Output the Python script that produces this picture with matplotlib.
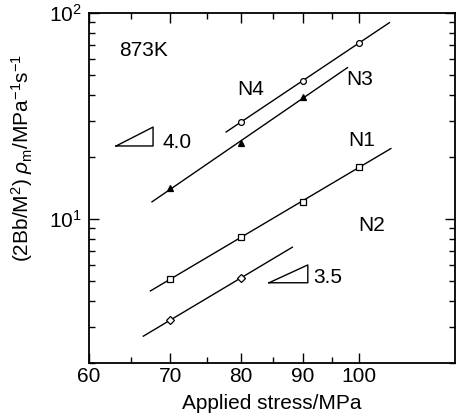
import matplotlib
matplotlib.use('Agg')
import matplotlib.pyplot as plt
from matplotlib.ticker import FixedLocator, NullFormatter, LogLocator
import numpy as np

plt.rcParams['font.family'] = ['Liberation Sans', 'DejaVu Sans']
plt.rcParams['mathtext.fontset'] = 'custom'
plt.rcParams['mathtext.rm'] = 'Liberation Sans'
plt.rcParams['mathtext.it'] = 'Liberation Sans:italic'

# stress values (MPa) and measured (2Bb/M^2) rho_m for each specimen
n1_stress = [70, 80, 90, 100]
n1_value = [5.11, 8.18, 12.1, 17.9]
n2_stress = [70, 80]
n2_value = [3.23, 5.17]
n3_stress = [70, 80, 90]
n3_value = [14.1, 23.4, 39.1]
n4_stress = [80, 90, 100]
n4_value = [29.6, 46.8, 71.5]

# extent of the fitted lines along the stress axis
n1_span = [67.4, 106.3]
n2_span = [66.5, 88.2]
n3_span = [67.6, 97.9]
n4_span = [77.8, 106.0]

x_ticks = [60, 70, 80, 90, 100]
x_minor = [65, 75, 85, 95]

fig = plt.figure(figsize=(4.59, 4.2), dpi=100)
ax = fig.add_axes([0.194, 0.136, 0.797, 0.833])


def draw_series(xs, ys, span, marker, filled=False, ms=4.2):
    k, b = np.polyfit(np.log10(xs), np.log10(ys), 1)
    sx = np.array(span)
    ax.plot(sx, 10 ** (k * np.log10(sx) + b), color='black', lw=1.0)
    ax.plot(xs, ys, linestyle='none', marker=marker, ms=ms, mew=0.9,
            mec='black', mfc='black' if filled else 'white')


draw_series(n1_stress, n1_value, n1_span, 's')
draw_series(n2_stress, n2_value, n2_span, 'D')
draw_series(n3_stress, n3_value, n3_span, '^', filled=True, ms=3.8)
draw_series(n4_stress, n4_value, n4_span, 'o')

ax.set_xscale('log')
ax.set_yscale('log')
ax.set_xlim(60, 120)
ax.set_ylim(2, 100)

ax.xaxis.set_major_locator(FixedLocator(x_ticks))
ax.xaxis.set_minor_locator(FixedLocator(x_minor))
ax.set_xticklabels([str(v) for v in x_ticks])
ax.xaxis.set_minor_formatter(NullFormatter())
ax.yaxis.set_major_locator(LogLocator(base=10, numticks=5))
ax.yaxis.set_minor_locator(LogLocator(base=10, subs=np.arange(2, 10), numticks=20))
ax.yaxis.set_minor_formatter(NullFormatter())

ax.tick_params(which='both', direction='in', top=True, right=True, labelsize=15, width=1.0)
ax.tick_params(which='major', length=7)
ax.tick_params(which='minor', length=4)
ax.tick_params(axis='x', which='major', pad=3)
ax.tick_params(axis='y', which='major', pad=5)
for s in ax.spines.values():
    s.set_linewidth(1.3)

ax.set_xlabel('Applied stress/MPa', fontsize=15, labelpad=6)
ax.set_ylabel(r'(2Bb/M$^2$) $\rho_{\rm m}$/MPa$^{-1}$s$^{-1}$', fontsize=15)
ax.yaxis.set_label_coords(-0.147, 0.586)

# annotations
ax.text(0.148, 0.894, '873K', transform=ax.transAxes, fontsize=15, ha='center', va='center')
ax.text(0.443, 0.78, 'N4', transform=ax.transAxes, fontsize=15, ha='center', va='center')
ax.text(0.740, 0.811, 'N3', transform=ax.transAxes, fontsize=15, ha='center', va='center')
ax.text(0.746, 0.637, 'N1', transform=ax.transAxes, fontsize=15, ha='center', va='center')
ax.text(0.773, 0.394, 'N2', transform=ax.transAxes, fontsize=15, ha='center', va='center')

ax.plot([0.074, 0.175, 0.175, 0.074], [0.62, 0.62, 0.674, 0.62], color='black', lw=1.0,
        transform=ax.transAxes, clip_on=False)
ax.text(0.202, 0.631, '4.0', transform=ax.transAxes, fontsize=15, ha='left', va='center')
ax.plot([0.492, 0.598, 0.598, 0.492], [0.229, 0.229, 0.28, 0.229], color='black', lw=1.0,
        transform=ax.transAxes, clip_on=False)
ax.text(0.612, 0.243, '3.5', transform=ax.transAxes, fontsize=15, ha='left', va='center')

fig.savefig('out.png', dpi=100)
